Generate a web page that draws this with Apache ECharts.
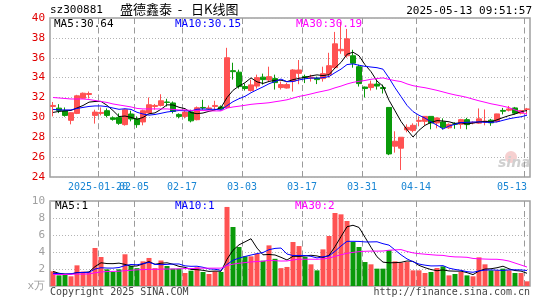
<!DOCTYPE html>
<html>
<head>
<meta charset="utf-8">
<script src="https://cdn.jsdelivr.net/npm/echarts/dist/echarts.min.js"></script>
<style>
html,body{margin:0;padding:0;background:#fff;}
#c{width:545px;height:300px;}
</style>
</head>
<body>
<div id="c"></div>
<script>
// ---- data ----
var dates = [
 '2025-01-08','2025-01-09','2025-01-10','2025-01-13','2025-01-14','2025-01-15','2025-01-16','2025-01-17',
 '2025-01-20','2025-01-21','2025-01-22','2025-01-23','2025-01-24','2025-01-27',
 '2025-02-05','2025-02-06','2025-02-07','2025-02-10','2025-02-11','2025-02-12','2025-02-13','2025-02-14',
 '2025-02-17','2025-02-18','2025-02-19','2025-02-20','2025-02-21','2025-02-24','2025-02-25','2025-02-26','2025-02-27','2025-02-28',
 '2025-03-03','2025-03-04','2025-03-05','2025-03-06','2025-03-07','2025-03-10','2025-03-11','2025-03-12','2025-03-13','2025-03-14',
 '2025-03-17','2025-03-18','2025-03-19','2025-03-20','2025-03-21','2025-03-24','2025-03-25','2025-03-26','2025-03-27','2025-03-28',
 '2025-03-31','2025-04-01','2025-04-02','2025-04-03','2025-04-07','2025-04-08','2025-04-09','2025-04-10','2025-04-11',
 '2025-04-14','2025-04-15','2025-04-16','2025-04-17','2025-04-18','2025-04-21','2025-04-22','2025-04-23','2025-04-24','2025-04-25',
 '2025-04-28','2025-04-29','2025-04-30',
 '2025-05-06','2025-05-07','2025-05-08','2025-05-09','2025-05-12','2025-05-13'
];
var opens = [31.1,30.93,30.67,29.7,30.4,31.93,32.3,30.2,30.4,30.67,
 29.95,30.0,29.27,30.34,29.84,29.54,30.44,31.1,31.2,31.55,
 31.45,30.3,30.1,30.55,29.77,31.0,30.85,31.1,31.05,31.0,
 34.7,34.55,33.1,32.7,33.15,34.05,33.77,33.9,33.0,32.95,
 33.65,34.43,34.1,33.95,33.95,33.9,34.3,35.0,36.7,36.2,
 36.2,35.1,33.05,33.0,33.35,33.0,31.0,27.1,26.9,28.74,
 28.67,29.6,29.6,30.1,29.44,29.54,28.95,29.35,29.3,29.77,
 29.45,29.42,29.55,29.72,29.6,30.7,30.72,30.95,30.42,30.8];
var closes = [31.2,30.7,30.2,30.47,32.17,32.43,32.4,30.53,30.5,30.2,
 29.8,29.4,30.77,29.84,29.27,30.67,31.27,31.2,31.67,31.5,
 30.6,30.1,30.53,29.65,30.97,30.95,30.95,31.2,30.85,36.0,
 34.6,33.1,32.9,33.27,34.0,33.8,34.1,33.5,33.3,33.3,
 34.77,34.77,34.0,34.05,33.8,34.4,35.2,37.4,36.85,37.9,
 35.45,33.4,32.9,33.35,33.15,32.9,26.32,27.6,28.0,29.0,
 29.2,29.7,30.1,29.44,29.94,29.0,29.3,29.3,29.77,29.27,
 29.5,29.85,29.62,29.45,30.35,30.62,30.85,30.42,30.68,30.85];
var lows = [30.1,30.43,30.07,29.3,30.33,31.87,31.9,29.37,30.2,30.0,
 29.67,29.25,29.17,29.6,28.95,29.2,30.4,30.77,31.1,31.1,
 30.4,29.9,29.9,29.5,29.7,30.77,30.77,30.77,30.77,30.85,
 33.8,32.9,32.7,32.6,32.9,33.3,33.6,32.8,32.8,32.9,
 32.6,33.34,33.45,33.6,33.35,33.6,34.0,34.9,36.4,36.0,
 35.0,33.1,32.0,32.7,32.8,32.4,26.2,26.45,24.7,28.5,
 28.5,29.1,29.2,28.8,28.9,28.77,28.85,28.85,28.85,28.8,
 29.3,29.35,29.2,29.15,29.5,30.3,30.6,30.3,30.3,30.35];
var highs = [31.55,31.33,31.0,30.5,32.27,32.5,32.6,30.77,31.0,30.9,
 30.1,30.4,30.87,30.67,30.1,30.77,32.0,31.35,32.33,31.87,
 31.6,30.4,30.77,30.77,31.1,31.77,31.2,31.67,31.2,37.0,
 35.5,34.8,33.4,33.8,34.3,34.4,35.1,34.3,33.6,33.5,
 34.85,35.77,34.3,34.3,34.1,35.1,36.5,38.6,39.6,38.9,
 36.8,35.3,33.1,33.7,33.8,33.3,31.0,28.6,28.0,29.3,
 29.4,30.1,30.1,30.1,30.0,29.9,29.4,29.5,29.85,29.95,
 29.6,30.9,30.8,29.85,30.37,30.95,31.15,31.05,30.75,30.95];
var volumes = [1.73,1.25,1.37,1.14,2.43,1.7,1.65,4.47,3.41,1.96,
 1.65,1.96,3.73,2.35,2.1,2.9,3.3,2.1,3.0,2.35,
 2.04,2.04,1.53,1.8,2.2,1.65,1.41,1.73,1.65,9.3,
 6.94,4.59,3.49,3.49,3.8,2.98,4.78,3.2,2.1,2.24,
 5.18,4.7,3.41,2.55,1.84,4.31,5.88,8.59,8.43,7.65,
 5.18,4.59,2.82,2.55,2.04,2.04,4.2,2.9,2.75,2.82,
 1.84,1.84,1.53,1.65,2.12,2.31,1.25,1.41,1.65,1.25,
 1.14,3.37,2.55,1.84,1.84,2.04,1.84,1.53,1.53,0.55];
// moving-average values for the first days (their window starts before the chart)
var ma5Head = [30.5,30.6,30.65,30.7];
var ma10Head = [30.8,30.75,30.75,30.75,30.9,31.0,31.1,31.15,31.15];
var ma30Head = [32.0,31.95,31.9,31.85,31.85,31.85,31.8,31.7,31.6,31.5,31.35,31.25,31.15,31.05,30.9,
 30.85,30.85,30.85,30.85,30.85,30.8,30.75,30.75,30.7,30.7,30.7,30.65,30.65,30.65];
var volMa5Head = [1.7,1.5,1.4,1.4];
var volMa10Head = [1.5,1.45,1.4,1.45,1.55,1.6,1.6,2.0,2.15];
var volMa30Head = [1.35,1.35,1.35,1.38,1.4,1.4,1.42,1.55,1.65,1.7,1.72,1.74,1.8,1.85,1.9,
 1.93,1.96,1.96,1.98,2.0,2.0,2.02,2.05,2.05,2.08,2.1,2.1,2.1,2.1];
var tickDates = ['2025-01-20','2025-02-05','2025-02-17','2025-03-03','2025-03-17','2025-03-31','2025-04-14','2025-05-13'];
var tickLabels = ['2025-01-20','02-05','02-17','03-03','03-17','03-31','04-14','05-13'];
var priceTicks = {min:24, max:40, step:2};
var volTicks = {min:0, max:10, step:2};
var headerTexts = {code:'sz300881', title:'盛德鑫泰  -   日K线图', time:'2025-05-13 09:51:57',
  ma5:'MA5:30.64', ma10:'MA10:30.15', ma30:'MA30:30.19', vma5:'MA5:1', vma10:'MA10:1', vma30:'MA30:2',
  copy:'Copyright 2025 SINA.COM', url:'http://finance.sina.com.cn', unit:'x万', logo:'sina'};

// ---- build ----
function movingAvg(vals, n, head){
  var out = [];
  for (var i=0;i<vals.length;i++){
    if (i < n-1) { out.push(head[i]); continue; }
    var s=0; for (var j=i-n+1;j<=i;j++) s+=vals[j];
    out.push(+(s/n).toFixed(3));
  }
  return out;
}
var RED='#ff5252', GREEN='#0a9a0a';
var kData = dates.map(function(d,i){ return [opens[i], closes[i], lows[i], highs[i]]; });
var volData = volumes.map(function(v,i){
  return {value:v, itemStyle:{color: closes[i] >= opens[i] ? RED : GREEN}};
});
var tickIdx = tickDates.map(function(d){ return dates.indexOf(d); });
var MONO = 'DejaVu Sans Mono';
// index 0 carries an empty label so that the first real label is not dropped as an overlapping "min" label
function isLabel(idx){ return idx === 0 || tickIdx.indexOf(idx) >= 0; }
function dotLine(){ return {show:true, lineStyle:{color:'#b4b4b4', type:[1,2], width:1}}; }

// Day boundaries: a hidden category axis without boundary gap whose points fall on the
// edges between the day bands (one more point than days), plus a hidden 0..1 value axis.
var boundaries = dates.concat(['end']);
function boundaryAxis(gridIndex){
  return {type:'category', gridIndex:gridIndex, data:boundaries, boundaryGap:false, show:false,
          axisLine:{show:false}, axisTick:{show:false}, axisLabel:{show:false}, splitLine:{show:false}};
}
function unitAxis(gridIndex){
  return {type:'value', gridIndex:gridIndex, min:0, max:1, show:false,
          axisLine:{show:false}, axisTick:{show:false}, axisLabel:{show:false}, splitLine:{show:false}};
}
var separatorData = boundaries.map(function(d, i){ return tickIdx.indexOf(i) >= 0 ? 1 : '-'; });
function dateSeparators(xAxisIndex, yAxisIndex){
  return {type:'pictorialBar', xAxisIndex:xAxisIndex, yAxisIndex:yAxisIndex, silent:true, z:3,
    data:separatorData, symbol:'rect', symbolRepeat:true, symbolSize:[1,6], symbolMargin:2,
    symbolOffset:['50%', 0], symbolRepeatDirection:'end',
    itemStyle:{color:'#9a9a9a'}, emphasis:{disabled:true}};
}

var chart = echarts.init(document.getElementById('c'), null, {renderer:'canvas'});
chart.setOption({
  animation:false,
  backgroundColor:'#fff',
  grid:[
    {left:50, top:18, width:480, height:159, show:true, borderColor:'#a0a0a0', borderWidth:1.5, backgroundColor:'transparent'},
    {left:50, top:201, width:480, height:85, show:true, borderColor:'#a0a0a0', borderWidth:1.5, backgroundColor:'transparent'}
  ],
  xAxis:[
    {type:'category', gridIndex:0, data:dates, boundaryGap:true,
     axisLine:{show:false}, axisTick:{show:false}, splitLine:{show:false},
     axisLabel:{show:true, interval:isLabel, margin:5, color:'#1a86d4', fontFamily:MONO, fontSize:10, hideOverlap:false,
       formatter:function(val, idx){
         var k = tickDates.indexOf(val);
         if (k < 0) return '';
         return (k === tickDates.length-1 ? '{last|' : '{n|') + tickLabels[k] + '}';
       },
       rich:{n:{padding:[0,6,0,0], color:'#1a86d4', fontFamily:MONO, fontSize:10},
             last:{padding:[0,30,0,0], color:'#1a86d4', fontFamily:MONO, fontSize:10}}}},
    {type:'category', gridIndex:1, data:dates, boundaryGap:true,
     axisLine:{show:false}, axisTick:{show:false}, axisLabel:{show:false}, splitLine:{show:false}},
    boundaryAxis(0),
    boundaryAxis(1)
  ],
  yAxis:[
    {type:'value', gridIndex:0, min:priceTicks.min, max:priceTicks.max, interval:priceTicks.step,
     axisLine:{show:false}, axisTick:{show:false}, splitLine:dotLine(),
     axisLabel:{color:'#e00000', fontFamily:MONO, fontSize:11, margin:5, showMinLabel:true, showMaxLabel:true}},
    {type:'value', gridIndex:1, min:volTicks.min, max:volTicks.max, interval:volTicks.step,
     axisLine:{show:false}, axisTick:{show:false}, splitLine:dotLine(),
     axisLabel:{color:'#a0a0a0', fontFamily:MONO, fontSize:11, margin:5, showMinLabel:true, showMaxLabel:true,
       formatter:function(v){ return v === 0 ? headerTexts.unit : String(v); }}},
    unitAxis(0),
    unitAxis(1)
  ],
  series:[
    dateSeparators(2, 2),
    dateSeparators(3, 3),
    {type:'candlestick', xAxisIndex:0, yAxisIndex:0, data:kData, barWidth:5,
     itemStyle:{color:RED, color0:GREEN, borderColor:RED, borderColor0:GREEN, borderWidth:1}, z:4},
    {type:'line', xAxisIndex:0, yAxisIndex:0, data:movingAvg(closes,5,ma5Head), symbol:'none', lineStyle:{color:'#000', width:1}, z:5},
    {type:'line', xAxisIndex:0, yAxisIndex:0, data:movingAvg(closes,10,ma10Head), symbol:'none', lineStyle:{color:'#0000ff', width:1}, z:5},
    {type:'line', xAxisIndex:0, yAxisIndex:0, data:movingAvg(closes,30,ma30Head), symbol:'none', lineStyle:{color:'#ff00ff', width:1}, z:5},
    {type:'bar', xAxisIndex:1, yAxisIndex:1, data:volData, barWidth:5, z:4},
    {type:'line', xAxisIndex:1, yAxisIndex:1, data:movingAvg(volumes,5,volMa5Head), symbol:'none', lineStyle:{color:'#000', width:1}, z:5},
    {type:'line', xAxisIndex:1, yAxisIndex:1, data:movingAvg(volumes,10,volMa10Head), symbol:'none', lineStyle:{color:'#0000ff', width:1}, z:5},
    {type:'line', xAxisIndex:1, yAxisIndex:1, data:movingAvg(volumes,30,volMa30Head), symbol:'none', lineStyle:{color:'#ff00ff', width:1}, z:5}
  ],
  graphic:[
    {type:'circle', shape:{cx:511, cy:157, r:6}, style:{fill:'#f6d0d0'}, z:1, silent:true},
    {type:'text', left:498, top:156, z:1, style:{text:headerTexts.logo, fill:'#d0d0d0', font:'italic bold 14px "DejaVu Sans"'}},
    {type:'text', left:50, top:5, style:{text:headerTexts.code, fill:'#000', font:'11px "'+MONO+'"'}},
    {type:'text', left:120, top:3, style:{text:headerTexts.title, fill:'#000', font:'13px "Noto Sans CJK SC"'}},
    {type:'text', right:13, top:6, style:{text:headerTexts.time, fill:'#000', font:'11px "'+MONO+'"'}},
    {type:'text', left:54, top:19, z:10, style:{text:headerTexts.ma5, fill:'#000', font:'11px "'+MONO+'"'}},
    {type:'text', left:175, top:19, z:10, style:{text:headerTexts.ma10, fill:'#0000ff', font:'11px "'+MONO+'"'}},
    {type:'text', left:296, top:19, z:10, style:{text:headerTexts.ma30, fill:'#ff00ff', font:'11px "'+MONO+'"'}},
    {type:'text', left:55, top:201, z:10, style:{text:headerTexts.vma5, fill:'#000', font:'11px "'+MONO+'"'}},
    {type:'text', left:175, top:201, z:10, style:{text:headerTexts.vma10, fill:'#0000ff', font:'11px "'+MONO+'"'}},
    {type:'text', left:295, top:201, z:10, style:{text:headerTexts.vma30, fill:'#ff00ff', font:'11px "'+MONO+'"'}},
    {type:'text', left:50, top:287, style:{text:headerTexts.copy, fill:'#444', font:'10px "'+MONO+'"'}},
    {type:'text', right:15, top:287, style:{text:headerTexts.url, fill:'#444', font:'10px "'+MONO+'"'}}
  ]
});
</script>
</body>
</html>
